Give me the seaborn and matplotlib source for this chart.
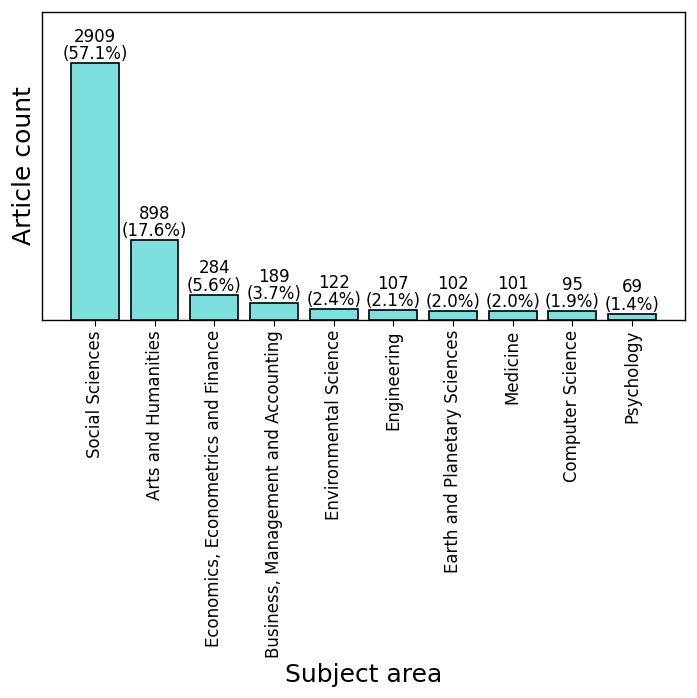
import matplotlib
matplotlib.use("Agg")
import matplotlib.pyplot as plt
import seaborn as sns
import pandas as pd

categories = ["Social Sciences", "Arts and Humanities", "Economics, Econometrics and Finance",
              "Business, Management and Accounting", "Environmental Science", "Engineering",
              "Earth and Planetary Sciences", "Medicine", "Computer Science", "Psychology"]
counts = [2909, 898, 284, 189, 122, 107, 102, 101, 95, 69]
percents = [57.1, 17.6, 5.6, 3.7, 2.4, 2.1, 2.0, 2.0, 1.9, 1.4]

df = pd.DataFrame({"area": categories, "count": counts})

fig, ax = plt.subplots(figsize=(6.97, 6.98), dpi=100)
sns.barplot(data=df, x="area", y="count", color="#7EE0DE", edgecolor="black",
            linewidth=1.2, saturation=1, width=0.8, ax=ax)

for i, (c, p) in enumerate(zip(counts, percents)):
    ax.text(i, c, f"{c}\n({p}%)", ha="center", va="bottom", fontsize=12,
            linespacing=0.95, color="black")

ax.set_xlim(-0.89, 9.89)
ax.set_ylim(0, max(counts) * 1.2)
ax.set_yticks([])
ax.set_xlabel("Subject area", fontsize=18, color="black")
ax.set_ylabel("Article count", fontsize=18, color="black")
ax.tick_params(axis="x", labelrotation=90, labelsize=12, bottom=True, length=4,
               colors="black")
for s in ax.spines.values():
    s.set_color("black")
    s.set_linewidth(1)
fig.subplots_adjust(left=0.06, right=0.983, top=0.983, bottom=0.542)
fig.savefig("out.png", dpi=100)
